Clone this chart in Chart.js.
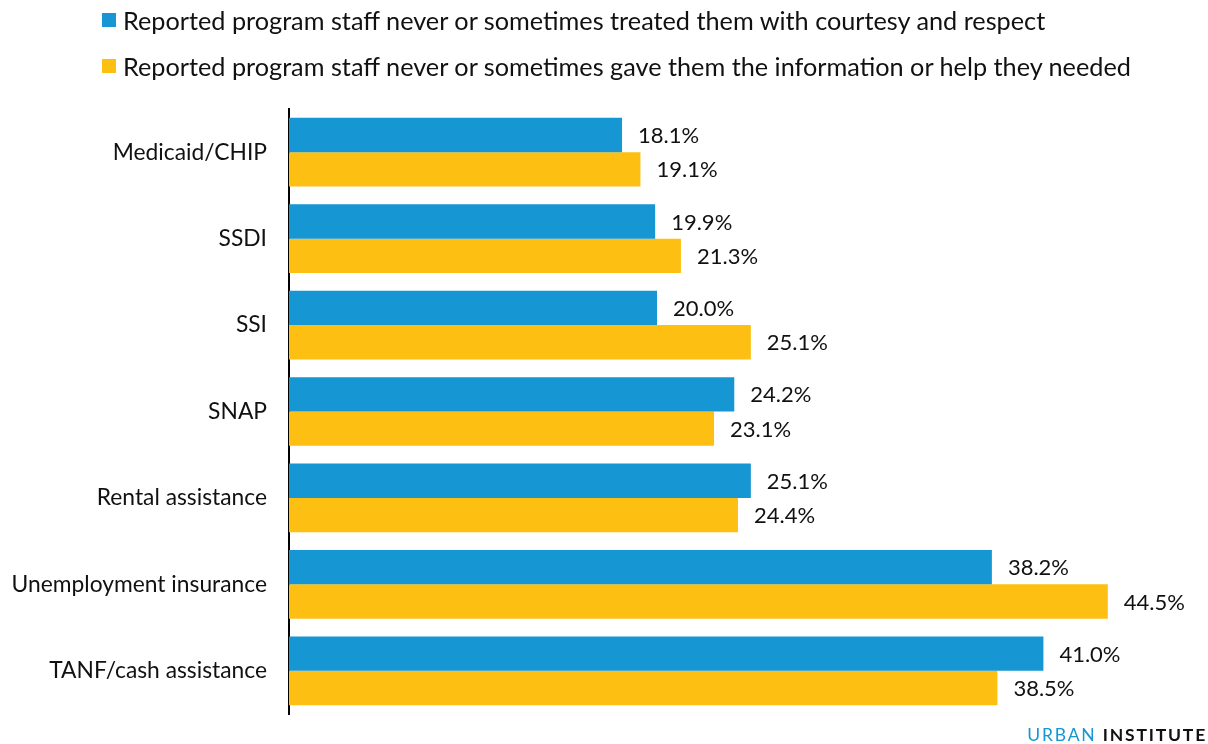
<!DOCTYPE html>
<html>
<head>
<meta charset="utf-8">
<script src="https://cdn.jsdelivr.net/npm/chart.js@4.4.1/dist/chart.umd.min.js"></script>
<style>
  body { margin: 0; background: #fff; font-family: Lato, "Open Sans", sans-serif; }
  #wrap { position: relative; width: 1208px; height: 744px; }
  #barChart { position: absolute; left: 0; top: 0; }
  #legend { position: absolute; left: 102px; top: 4px; }
  .item { display: flex; align-items: center; height: 32px; margin-bottom: 14px; font-size: 25.25px; color: #111; white-space: nowrap; }
  .swatch { width: 14px; height: 14px; margin-right: 7px; }
  #logo { position: absolute; right: 1px; top: 724px; font-size: 17.5px; letter-spacing: 1.8px; }
  #logo .u { color: #1696d2; }
  #logo .i { color: #111; font-weight: bold; }
</style>
</head>
<body>
<div id="wrap">
  <canvas id="barChart" width="1208" height="744"></canvas>
  <div id="legend"></div>
  <div id="logo"><span class="u">URBAN</span> <span class="i">INSTITUTE</span></div>
</div>
<script>
// Programs and shares of respondents (%)
const categories = ["Medicaid/CHIP", "SSDI", "SSI", "SNAP", "Rental assistance", "Unemployment insurance", "TANF/cash assistance"];
const courtesy = [18.1, 19.9, 20.0, 24.2, 25.1, 38.2, 41.0];
const helpNeeded = [19.1, 21.3, 25.1, 23.1, 24.4, 44.5, 38.5];
const seriesNames = [
	"Reported program staff never or sometimes treated them with courtesy and respect",
	"Reported program staff never or sometimes gave them the information or help they needed",
];
const colors = ["#1696d2", "#fdbf11"];

// legend
const legend = document.getElementById("legend");
seriesNames.forEach((name, i) => {
	const div = document.createElement("div");
	div.className = "item";
	div.innerHTML = `<span class="swatch" style="background:${colors[i]}"></span><span>${name}</span>`;
	legend.appendChild(div);
});

// value labels at the end of each bar
const valueLabels = {
	id: "valueLabels",
	afterDatasetsDraw(chart) {
		const ctx = chart.ctx;
		ctx.save();
		ctx.font = "22px Lato";
		ctx.fillStyle = "#111";
		ctx.textAlign = "left";
		ctx.textBaseline = "middle";
		chart.data.datasets.forEach((ds, i) => {
			chart.getDatasetMeta(i).data.forEach((bar, j) => {
				ctx.fillText(ds.data[j].toFixed(1) + "%", bar.x + 16, bar.y + 1);
			});
		});
		ctx.restore();
	},
};

const ctx = document.getElementById("barChart").getContext("2d");
new Chart(ctx, {
	type: "bar",
	data: {
		labels: categories,
		datasets: [
			{ label: seriesNames[0], data: courtesy, backgroundColor: colors[0] },
			{ label: seriesNames[1], data: helpNeeded, backgroundColor: colors[1] },
		],
	},
	options: {
		indexAxis: "y",
		responsive: false,
		animation: false,
		categoryPercentage: 0.795,
		barPercentage: 1.0,
		layout: { padding: { top: 109, right: 91, bottom: 30, left: 0 } },
		plugins: { legend: { display: false }, tooltip: { enabled: false } },
		scales: {
			x: { display: false, min: 0, max: 45 },
			y: {
				grid: { display: false, drawTicks: false },
				border: { display: true, color: "#000", width: 2 },
				ticks: { color: "#111", font: { family: "Lato", size: 22.8 }, padding: 22 },
				afterFit(scale) {
					scale.width = 289;
					scale.paddingTop = 0;
					scale.paddingBottom = 0;
				},
			},
		},
	},
	plugins: [valueLabels],
});
</script>
</body>
</html>
